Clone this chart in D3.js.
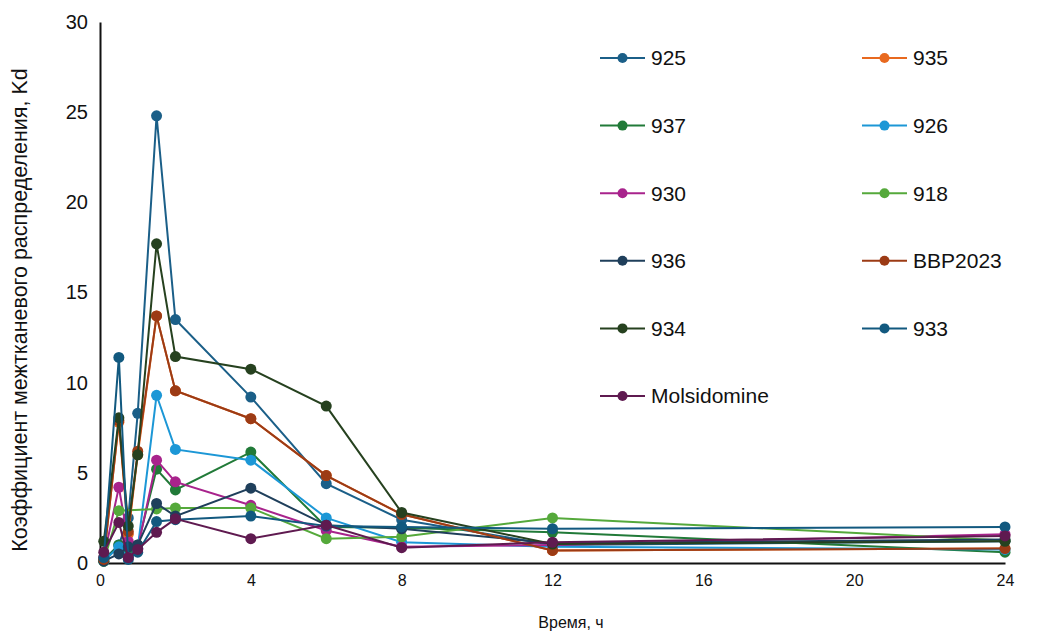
<!DOCTYPE html>
<html>
<head>
<meta charset="utf-8">
<script src="https://cdnjs.cloudflare.com/ajax/libs/d3/7.8.5/d3.min.js"></script>
<style>
  body { margin: 0; background: #fff; }
  text { font-family: "Liberation Sans", Arial, sans-serif; fill: #111; }
</style>
</head>
<body>
<div id="graph"></div>
<script>
// time points, hours
var hours = [0.1, 0.5, 0.75, 1, 1.5, 2, 4, 6, 8, 12, 24];

// Kd per series (null = no point)
var s925  = [0.2, 1.0, 2.5, 8.3, 24.8, 13.5, 9.2, 4.4, 2.4, 1.0, 1.2];
var s935  = [0.3, 7.8, 1.6, 6.0, 13.7, 9.55, 8.0, 4.85, 2.7, 0.7, 0.8];
var s937  = [0.1, 1.0, 0.8, 1.0, 5.2, 4.05, 6.15, 2.0, 1.95, 1.7, 0.6];
var s926  = [0.1, 0.9, 0.3, 0.8, 9.3, 6.3, 5.7, 2.5, 1.15, 0.9, 0.75];
var s930  = [0.3, 4.2, 1.2, 0.8, 5.7, 4.5, 3.2, 1.8, 0.9, 1.0, 1.6];
var s918  = [0.1, 2.9, null, null, 3.0, 3.05, 3.05, 1.35, 1.45, 2.5, 1.25];
var s936  = [0.1, 0.5, 0.9, 1.0, 3.3, 2.6, 4.15, 2.1, 1.9, 1.1, 1.3];
var sBBP  = [0.2, 7.9, 1.75, 6.2, 13.7, 9.55, 8.0, 4.85, 2.7, 0.7, 0.8];
var s934  = [1.2, 8.05, 2.05, 6.0, 17.7, 11.45, 10.75, 8.7, 2.8, 1.05, 1.2];
var s933  = [0.3, 11.4, 0.2, 0.6, 2.3, 2.4, 2.6, 2.05, 2.0, 1.9, 2.0];
var sMols = [0.6, 2.25, 0.3, 0.75, 1.7, 2.45, 1.35, 2.1, 0.85, 1.15, 1.5];

var names  = ["925", "935", "937", "926", "930", "918", "936", "BBP2023", "934", "933", "Molsidomine"];
var values = [s925, s935, s937, s926, s930, s918, s936, sBBP, s934, s933, sMols];
var colors = ["#1b5f88", "#e8691f", "#217a38", "#1c97d6", "#a8238c", "#55a93b",
              "#1f3f5b", "#9c3b15", "#26411f", "#12597f", "#5f1a50"];

var xTicks = [0, 4, 8, 12, 16, 20, 24];
var yTicks = [0, 5, 10, 15, 20, 25, 30];

var width = 1039;
var height = 632;
var margin = {left: 100, right: 34, top: 22, bottom: 69};

var x = d3.scaleLinear().domain([0, 24]).range([margin.left, width - margin.right]);
var y = d3.scaleLinear().domain([0, 30]).range([height - margin.bottom, margin.top]);

var svg = d3.select("#graph")
  .append("svg")
    .attr("width", width)
    .attr("height", height);

// axes, no tick marks
svg.append("g")
    .attr("transform", "translate(0," + y(0) + ")")
    .call(d3.axisBottom(x).tickValues(xTicks).tickSize(0).tickPadding(12))
    .call(function(g) {
      g.select(".domain").attr("stroke", "#111").attr("stroke-width", 2);
      g.selectAll("text").style("font-size", "16px")
        .style("font-family", "'Liberation Sans', Arial, sans-serif").attr("fill", "#111");
    });

svg.append("g")
    .attr("transform", "translate(" + x(0) + ",0)")
    .call(d3.axisLeft(y).tickValues(yTicks).tickSize(0).tickPadding(12))
    .call(function(g) {
      g.select(".domain").attr("stroke", "#111").attr("stroke-width", 2);
      g.selectAll("text").style("font-size", "20px")
        .style("font-family", "'Liberation Sans', Arial, sans-serif").attr("fill", "#111");
    });

svg.append("text")
    .attr("x", 571)
    .attr("y", 628)
    .attr("text-anchor", "middle")
    .style("font-size", "16px")
    .text("Время, ч");

svg.append("text")
    .attr("transform", "translate(27,310) rotate(-90)")
    .attr("text-anchor", "middle")
    .style("font-size", "21.5px")
    .text("Коэффициент межтканевого распределения, Kd");

var line = d3.line()
    .x(function(d) { return x(d.t); })
    .y(function(d) { return y(d.v); });

var series = names.map(function(n, i) {
  return {
    name: n,
    color: colors[i],
    points: hours.map(function(t, j) { return {t: t, v: values[i][j]}; })
                 .filter(function(d) { return d.v != null; })
  };
});

var g = svg.selectAll(".series")
    .data(series)
    .enter()
      .append("g")
      .attr("class", "series");

g.append("path")
    .attr("d", function(d) { return line(d.points); })
    .attr("fill", "none")
    .attr("stroke", function(d) { return d.color; })
    .attr("stroke-width", 2);

g.selectAll("circle")
    .data(function(d) { return d.points.map(function(p) { return {t: p.t, v: p.v, c: d.color}; }); })
    .enter()
      .append("circle")
      .attr("cx", function(d) { return x(d.t); })
      .attr("cy", function(d) { return y(d.v); })
      .attr("r", 5.5)
      .attr("fill", function(d) { return d.c; });

// legend, two columns
var legend = svg.selectAll(".legend")
    .data(series)
    .enter()
      .append("g")
      .attr("class", "legend")
      .attr("transform", function(d, i) {
        return "translate(" + (i % 2 ? 862 : 600) + "," + (58 + Math.floor(i / 2) * 67.6) + ")";
      });

legend.append("line")
    .attr("x1", 0).attr("x2", 45)
    .attr("stroke", function(d) { return d.color; })
    .attr("stroke-width", 2);

legend.append("circle")
    .attr("cx", 22.5)
    .attr("r", 5)
    .attr("fill", function(d) { return d.color; });

legend.append("text")
    .attr("x", 51)
    .attr("dy", "0.35em")
    .style("font-size", "21px")
    .text(function(d) { return d.name; });
</script>
</body>
</html>
